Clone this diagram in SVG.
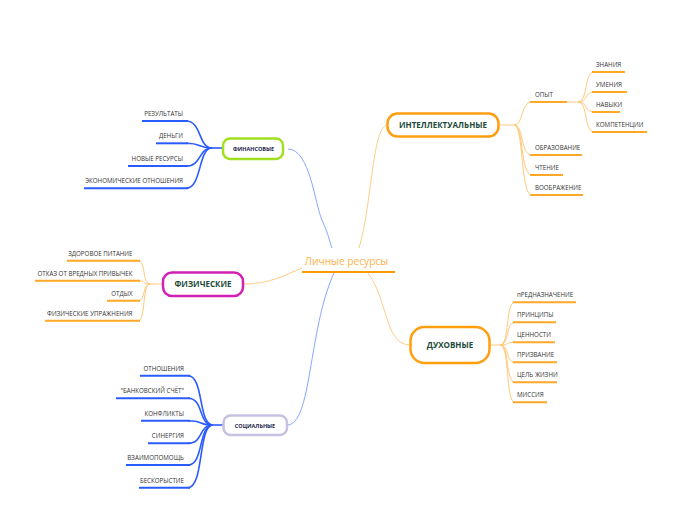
<svg xmlns="http://www.w3.org/2000/svg" width="696" height="520" viewBox="0 0 696 520">
<style>
.leaf{font-family:"Open Sans","DejaVu Sans",sans-serif;font-size:6.2px;fill:#333}
.end{text-anchor:end}
.ul-o{stroke:#ffa726;stroke-width:2;fill:none}
.ul-b{stroke:#2a5bff;stroke-width:2;fill:none}
.c-o{stroke:#ffc87a;stroke-width:1;fill:none}
.c-b{stroke:#2a5bff;stroke-width:1.6;fill:none}
.main-o{stroke:#ffcc88;stroke-width:1;fill:none}
.main-b{stroke:#88a6ff;stroke-width:1;fill:none}
.big{font-family:"Open Sans","DejaVu Sans",sans-serif;font-weight:bold;font-size:8px;fill:#1d4a3a;text-anchor:middle}
.small{font-family:"Open Sans","DejaVu Sans",sans-serif;font-weight:bold;font-size:5.5px;fill:#1a1a4a;text-anchor:middle}
</style>
<rect width="696" height="520" fill="#fff"/>
<g id="connectors">
<path class="main-b" d="M288,149 C310,149 315,205 322,220 S330,244 332,248"/>
<path class="main-o" d="M387,125 C372,128 372,205 359,248"/>
<path class="main-o" d="M244,284 C270,284 285,275 302,268"/>
<path class="main-b" d="M287,425 C312,425 308,330 334,273"/>
<path class="main-o" d="M410,345 C385,345 388,300 368,273"/>
<path class="c-o" d="M500,125 H514"/>
<path class="c-o" d="M514,125 C524,125 520,102 532,102"/>
<path class="c-o" d="M514,125 C524,125 520,155 532,155"/>
<path class="c-o" d="M514,125 C524,125 520,175 532,175"/>
<path class="c-o" d="M514,125 C524,125 520,195 532,195"/>
<path class="c-o" d="M567,102 H578"/>
<path class="c-o" d="M578,102 C588,102 584,72 594,72"/>
<path class="c-o" d="M578,102 C588,102 584,92 594,92"/>
<path class="c-o" d="M578,102 C588,102 584,112 594,112"/>
<path class="c-o" d="M578,102 C588,102 584,132 594,132"/>
<path class="c-o" d="M490,345 H500"/>
<path class="c-o" d="M500,345 C510,345 505,302.3 515,302.3"/>
<path class="c-o" d="M500,345 C510,345 505,322.3 515,322.3"/>
<path class="c-o" d="M500,345 C510,345 505,342.3 515,342.3"/>
<path class="c-o" d="M500,345 C510,345 505,362.3 515,362.3"/>
<path class="c-o" d="M500,345 C510,345 505,382.3 515,382.3"/>
<path class="c-o" d="M500,345 C510,345 505,402.3 515,402.3"/>
<path class="c-o" d="M163,284 H150"/>
<path class="c-o" d="M150,284 C142,284 146,260.7 138,260.7"/>
<path class="c-o" d="M150,284 C142,284 146,280.7 138,280.7"/>
<path class="c-o" d="M150,284 C142,284 146,300.7 138,300.7"/>
<path class="c-o" d="M150,284 C142,284 146,320.7 138,320.7"/>
<path class="c-b" d="M223,148 H212"/>
<path class="c-b" d="M212,148 C198,148 202,121 186,121"/>
<path class="c-b" d="M212,148 C198,148 202,143.3 186,143.3"/>
<path class="c-b" d="M212,148 C198,148 202,166 186,166"/>
<path class="c-b" d="M212,148 C198,148 202,188.3 186,188.3"/>
<path class="c-b" d="M223,425 H213"/>
<path class="c-b" d="M213,425 C198,425 204,375.7 188,375.7"/>
<path class="c-b" d="M213,425 C198,425 204,398.3 188,398.3"/>
<path class="c-b" d="M213,425 C198,425 204,420.7 188,420.7"/>
<path class="c-b" d="M213,425 C198,425 204,443.3 188,443.3"/>
<path class="c-b" d="M213,425 C198,425 204,465 188,465"/>
<path class="c-b" d="M213,425 C198,425 204,487.7 188,487.7"/>
</g>
<g id="center">
<text x="346.5" y="265" font-family="'Open Sans','DejaVu Sans',sans-serif" font-size="10.2" fill="#ffb04a" text-anchor="middle">Личные ресурсы</text>
<line x1="302" y1="272" x2="395" y2="272" stroke="#ff9900" stroke-width="2"/>
</g>
<g id="intellectual">
<rect x="387.5" y="113.5" width="111" height="23" rx="10" fill="#fff" stroke="#ff9e0f" stroke-width="2.5"/>
<text class="big" x="443" y="128">ИНТЕЛЛЕКТУАЛЬНЫЕ</text>
</g>
<g id="i-opyt"><line class="ul-o" x1="530" y1="102" x2="567" y2="102"/><text class="leaf" x="535" y="97">ОПЫТ</text></g>
<g id="i-znaniya"><line class="ul-o" x1="592" y1="72" x2="625" y2="72"/><text class="leaf" x="596" y="67">ЗНАНИЯ</text></g>
<g id="i-umeniya"><line class="ul-o" x1="592" y1="92" x2="627" y2="92"/><text class="leaf" x="596" y="87">УМЕНИЯ</text></g>
<g id="i-navyki"><line class="ul-o" x1="592" y1="112" x2="620" y2="112"/><text class="leaf" x="596" y="107">НАВЫКИ</text></g>
<g id="i-komp"><line class="ul-o" x1="592" y1="132" x2="647" y2="132"/><text class="leaf" x="596" y="127">КОМПЕТЕНЦИИ</text></g>
<g id="i-obraz"><line class="ul-o" x1="530" y1="155" x2="582" y2="155"/><text class="leaf" x="535" y="150">ОБРАЗОВАНИЕ</text></g>
<g id="i-chtenie"><line class="ul-o" x1="530" y1="175" x2="563" y2="175"/><text class="leaf" x="535" y="170">ЧТЕНИЕ</text></g>
<g id="i-voobr"><line class="ul-o" x1="530" y1="195" x2="583" y2="195"/><text class="leaf" x="535" y="190">ВООБРАЖЕНИЕ</text></g>

<g id="spiritual">
<rect x="410.5" y="327" width="79" height="36" rx="14" fill="#fff" stroke="#ff9e0f" stroke-width="2.5"/>
<text class="big" x="450" y="348">ДУХОВНЫЕ</text>
</g>
<g id="s-1"><line class="ul-o" x1="513" y1="302.3" x2="576" y2="302.3"/><text class="leaf" x="517" y="297.3">пРЕДНАЗНАЧЕНИЕ</text></g>
<g id="s-2"><line class="ul-o" x1="513" y1="322.3" x2="556" y2="322.3"/><text class="leaf" x="517" y="317.3">ПРИНЦИПЫ</text></g>
<g id="s-3"><line class="ul-o" x1="513" y1="342.3" x2="555" y2="342.3"/><text class="leaf" x="517" y="337.3">ЦЕННОСТИ</text></g>
<g id="s-4"><line class="ul-o" x1="513" y1="362.3" x2="557" y2="362.3"/><text class="leaf" x="517" y="357.3">ПРИЗВАНИЕ</text></g>
<g id="s-5"><line class="ul-o" x1="513" y1="382.3" x2="557" y2="382.3"/><text class="leaf" x="517" y="377.3">ЦЕЛЬ ЖИЗНИ</text></g>
<g id="s-6"><line class="ul-o" x1="513" y1="402.3" x2="547" y2="402.3"/><text class="leaf" x="517" y="397.3">МИССИЯ</text></g>

<g id="physical">
<rect x="163" y="272.5" width="80" height="23.5" rx="9" fill="#fff" stroke="#d21fb5" stroke-width="2.5"/>
<text class="big" x="203" y="287">ФИЗИЧЕСКИЕ</text>
</g>
<g id="p-1"><line class="ul-o" x1="67" y1="260.7" x2="140" y2="260.7"/><text class="leaf end" x="132.5" y="255.7">ЗДОРОВОЕ ПИТАНИЕ</text></g>
<g id="p-2"><line class="ul-o" x1="35" y1="280.7" x2="140" y2="280.7"/><text class="leaf end" x="132.5" y="275.7">ОТКАЗ ОТ ВРЕДНЫХ ПРИВЫЧЕК</text></g>
<g id="p-3"><line class="ul-o" x1="107" y1="300.7" x2="140" y2="300.7"/><text class="leaf end" x="132.5" y="295.7">ОТДЫХ</text></g>
<g id="p-4"><line class="ul-o" x1="45" y1="320.7" x2="140" y2="320.7"/><text class="leaf end" x="132.5" y="315.7">ФИЗИЧЕСКИЕ УПРАЖНЕНИЯ</text></g>

<g id="finance">
<rect x="223" y="138.5" width="60" height="20.5" rx="7" fill="#fff" stroke="#a0e020" stroke-width="2.5"/>
<text class="small" x="253.5" y="151">ФИНАНСОВЫЕ</text>
</g>
<g id="f-1"><line class="ul-b" x1="142" y1="121" x2="188" y2="121"/><text class="leaf end" x="183" y="116">РЕЗУЛЬТАТЫ</text></g>
<g id="f-2"><line class="ul-b" x1="156" y1="143.3" x2="188" y2="143.3"/><text class="leaf end" x="183" y="138.3">ДЕНЬГИ</text></g>
<g id="f-3"><line class="ul-b" x1="128" y1="166" x2="188" y2="166"/><text class="leaf end" x="183" y="161">НОВЫЕ РЕСУРСЫ</text></g>
<g id="f-4"><line class="ul-b" x1="84" y1="188.3" x2="188" y2="188.3"/><text class="leaf end" x="183" y="183.3">ЭКОНОМИЧЕСКИЕ ОТНОШЕНИЯ</text></g>

<g id="social">
<rect x="223.5" y="415.5" width="63.5" height="19.5" rx="7" fill="#fff" stroke="#c8c0e0" stroke-width="2.5"/>
<text class="small" x="255" y="427.5">СОЦИАЛЬНЫЕ</text>
</g>
<g id="so-1"><line class="ul-b" x1="140" y1="375.7" x2="190" y2="375.7"/><text class="leaf end" x="184" y="370.7">ОТНОШЕНИЯ</text></g>
<g id="so-2"><line class="ul-b" x1="116" y1="398.3" x2="190" y2="398.3"/><text class="leaf end" x="184" y="393.3">"БАНКОВСКИЙ СЧЁТ"</text></g>
<g id="so-3"><line class="ul-b" x1="141" y1="420.7" x2="190" y2="420.7"/><text class="leaf end" x="184" y="415.7">КОНФЛИКТЫ</text></g>
<g id="so-4"><line class="ul-b" x1="148" y1="443.3" x2="190" y2="443.3"/><text class="leaf end" x="184" y="438.3">СИНЕРГИЯ</text></g>
<g id="so-5"><line class="ul-b" x1="126" y1="465" x2="190" y2="465"/><text class="leaf end" x="184" y="460">ВЗАИМОПОМОЩЬ</text></g>
<g id="so-6"><line class="ul-b" x1="139" y1="487.7" x2="190" y2="487.7"/><text class="leaf end" x="184" y="482.7">БЕСКОРЫСТИЕ</text></g>
</svg>
